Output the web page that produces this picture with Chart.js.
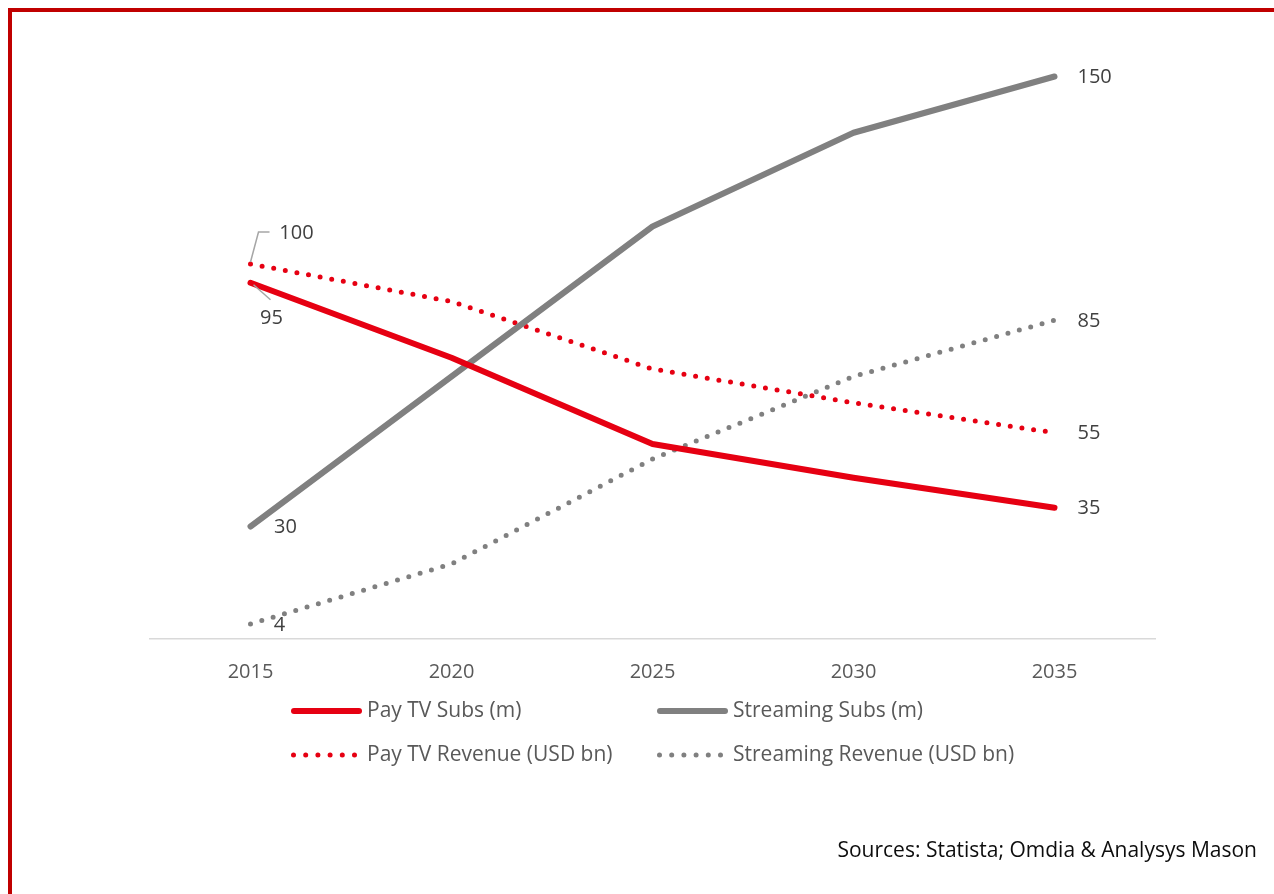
<!DOCTYPE html>
<html>
<head>
<meta charset="utf-8">
<script src="https://cdn.jsdelivr.net/npm/chart.js@4.4.1/dist/chart.umd.min.js"></script>
<style>
  html, body { margin: 0; padding: 0; background: #fff; }
  body { width: 1274px; height: 894px; position: relative; overflow: hidden; font-family: "Open Sans", sans-serif; }
  .frame { position: absolute; left: 8px; top: 8px; width: 1300px; height: 900px; border-top: 4px solid #c00000; border-left: 4px solid #c00000; }
  .wrap { position: absolute; left: 0; top: 0; width: 1274px; height: 894px; }
  .source { position: absolute; right: 17px; top: 835px; font-size: 21px; color: #0d0d0d; }
</style>
</head>
<body>
<div class="frame"></div>
<div class="wrap"><canvas id="tvChart"></canvas></div>
<div class="source">Sources: Statista; Omdia &amp; Analysys Mason</div>
<script>
document.addEventListener("DOMContentLoaded", () => {
    const years = ["2015", "2020", "2025", "2030", "2035"];

    const payTvSubs = [95, 75, 52, 43, 35];
    const streamingSubs = [30, 70, 110, 135, 150];
    const payTvRevenue = [100, 90, 72, 63, 55];
    const streamingRevenue = [4, 20, 48, 70, 85];

    const RED = "#e60012";
    const GREY = "#808080";
    const LABEL_COLOR = "#404040";
    const FONT = "Open Sans";

    // value labels on the first and last point of every line
    const endLabels = {
        id: "endLabels",
        afterDatasetsDraw(chart) {
            const ctx = chart.ctx;
            ctx.save();
            ctx.font = "20px " + FONT;
            ctx.fillStyle = LABEL_COLOR;
            ctx.textBaseline = "middle";
            chart.data.datasets.forEach((ds, i) => {
                const pts = chart.getDatasetMeta(i).data;
                const first = pts[0];
                const last = pts[pts.length - 1];
                const f = ds.firstLabel;

                if (f.leader) {
                    ctx.strokeStyle = "#a6a6a6";
                    ctx.lineWidth = 1.5;
                    ctx.beginPath();
                    ctx.moveTo(first.x + f.leader[0][0], first.y + f.leader[0][1]);
                    for (let k = 1; k < f.leader.length; k++) {
                        ctx.lineTo(first.x + f.leader[k][0], first.y + f.leader[k][1]);
                    }
                    ctx.stroke();
                }
                ctx.textAlign = "center";
                ctx.fillText(String(ds.data[0]), first.x + f.dx, first.y + f.dy);

                ctx.textAlign = "left";
                ctx.fillText(String(ds.data[ds.data.length - 1]), last.x + 23, last.y + 1);
            });
            ctx.restore();
        }
    };

    // two-column legend under the axis
    const gridLegend = {
        id: "gridLegend",
        afterDraw(chart) {
            const ctx = chart.ctx;
            const cols = [291, 657];
            const rows = [711, 755];
            ctx.save();
            ctx.font = "21px " + FONT;
            ctx.fillStyle = "#595959";
            ctx.textAlign = "left";
            ctx.textBaseline = "middle";
            chart.data.datasets.forEach((ds, i) => {
                const x = cols[i % 2];
                const y = rows[Math.floor(i / 2)];
                ctx.strokeStyle = ds.borderColor;
                ctx.lineCap = "round";
                ctx.beginPath();
                if (ds.borderDash.length) {
                    ctx.lineWidth = 5;
                    ctx.setLineDash([0, 12.2]);
                    ctx.moveTo(x + 2.5, y);
                    ctx.lineTo(x + 66, y);
                } else {
                    ctx.lineWidth = 6;
                    ctx.setLineDash([]);
                    ctx.moveTo(x + 3, y);
                    ctx.lineTo(x + 68, y);
                }
                ctx.stroke();
                ctx.fillText(ds.label, x + 76, y);
            });
            ctx.restore();
        }
    };

    const ctx = document.getElementById("tvChart").getContext("2d");
    new Chart(ctx, {
        type: "line",
        data: {
            labels: years,
            datasets: [
                {
                    label: "Pay TV Subs (m)",
                    data: payTvSubs,
                    borderColor: RED,
                    borderWidth: 6,
                    borderDash: [],
                    firstLabel: { dx: 21, dy: 36, leader: [[3, 2], [20, 17]] },
                },
                {
                    label: "Streaming Subs (m)",
                    data: streamingSubs,
                    borderColor: GREY,
                    borderWidth: 6,
                    borderDash: [],
                    firstLabel: { dx: 35, dy: 1 },
                },
                {
                    label: "Pay TV Revenue (USD bn)",
                    data: payTvRevenue,
                    borderColor: RED,
                    borderWidth: 5,
                    borderDash: [0, 11.8],
                    firstLabel: { dx: 46, dy: -31, leader: [[0, -2], [8, -32], [19, -32]] },
                },
                {
                    label: "Streaming Revenue (USD bn)",
                    data: streamingRevenue,
                    borderColor: GREY,
                    borderWidth: 5,
                    borderDash: [0, 11.8],
                    firstLabel: { dx: 29, dy: 1 },
                },
            ],
        },
        options: {
            responsive: true,
            maintainAspectRatio: false,
            animation: false,
            layout: { padding: { left: 150, right: 119, top: 39, bottom: 189 } },
            elements: {
                point: { radius: 0, hoverRadius: 0 },
                line: { tension: 0, borderCapStyle: "round", borderJoinStyle: "round" },
            },
            plugins: {
                legend: { display: false },
                tooltip: { enabled: false },
            },
            scales: {
                x: {
                    offset: true,
                    grid: { display: false, drawTicks: false },
                    border: { display: true, color: "#d9d9d9", width: 1.5 },
                    ticks: { color: "#595959", font: { family: FONT, size: 20 }, padding: 21 },
                },
                y: {
                    display: false,
                    min: 0,
                    max: 160,
                },
            },
        },
        plugins: [endLabels, gridLegend],
    });
});
</script>
</body>
</html>
